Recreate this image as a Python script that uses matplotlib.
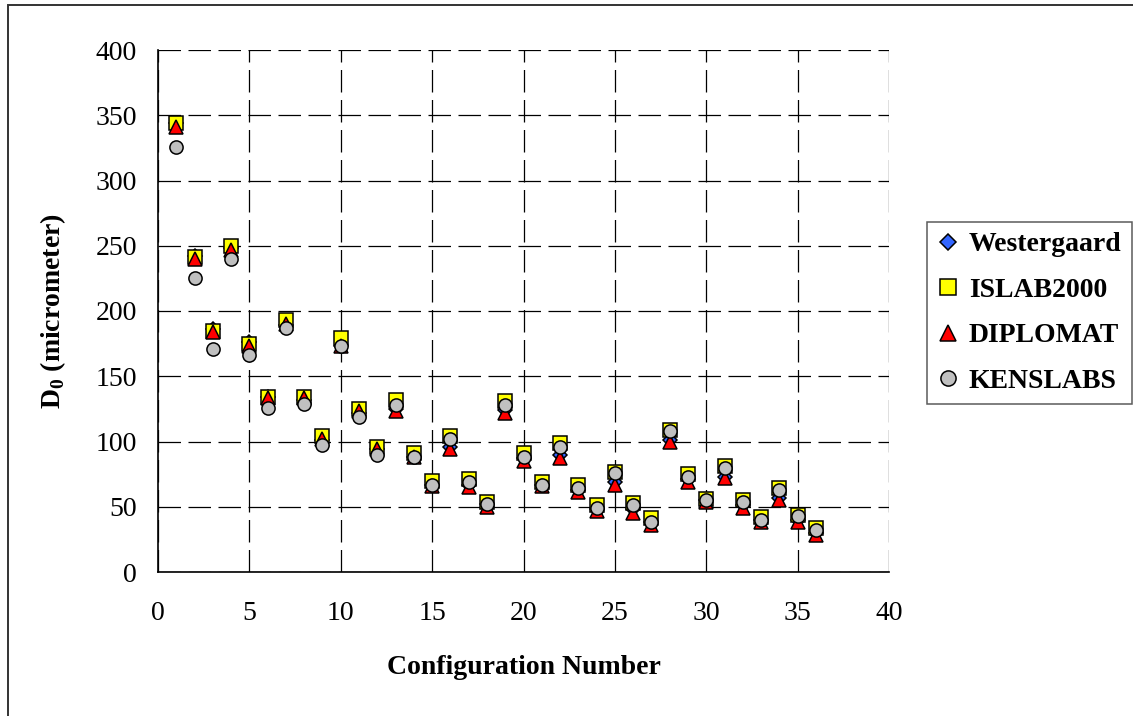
import matplotlib
matplotlib.use("Agg")
import matplotlib.pyplot as plt
from matplotlib.patches import Rectangle

plt.rcParams['font.family'] = ['Liberation Serif', 'DejaVu Serif']
plt.rcParams['mathtext.fontset'] = 'custom'
plt.rcParams['mathtext.rm'] = 'Liberation Serif'
plt.rcParams['mathtext.bf'] = 'Liberation Serif:bold'

config = list(range(1, 37))
westergaard = [344, 242, 186, 248, 176, 134, 189, 132, 101, 173, 122, 94, 125, 88, 67, 96, 67, 52,
               124, 87, 67, 90, 63, 48, 69, 48, 38, 101, 71, 55, 73, 51, 40, 57, 40, 30]
islab2000 = [344, 241, 185, 250, 175, 134, 193, 134, 104, 179, 125, 96, 132, 91, 70, 104, 71, 54,
             131, 91, 69, 99, 67, 51, 77, 53, 41, 109, 75, 56, 81, 55, 42, 64, 44, 34]
diplomat = [341, 240, 184, 247, 173, 133, 190, 133, 102, 173, 123, 94, 123, 88, 66, 94, 65, 50,
            122, 85, 66, 87, 61, 47, 67, 45, 36, 100, 69, 54, 72, 49, 38, 55, 38, 28]
kenslabs = [326, 225, 171, 240, 166, 126, 187, 129, 97, 173, 119, 90, 128, 88, 67, 102, 69, 52,
            128, 88, 67, 96, 64, 49, 76, 51, 38, 108, 73, 55, 80, 54, 40, 63, 43, 32]

xticks = [0, 5, 10, 15, 20, 25, 30, 35, 40]
yticks = [0, 50, 100, 150, 200, 250, 300, 350, 400]

W, H = 1133, 716
fig = plt.figure(figsize=(W / 100, H / 100), dpi=100)
fig.patch.set_facecolor('white')

# outer chart frame (right and bottom edges fall outside the image)
fig.add_artist(Rectangle((8 / W, -0.1), 1.2, 1 - 5 / H + 0.1, transform=fig.transFigure,
                         fill=False, edgecolor='#333333', linewidth=1.4))

ax = fig.add_axes([158 / W, 1 - 572 / H, (889 - 158) / W, (572 - 50) / H])
ax.set_xlim(0, 40)
ax.set_ylim(0, 400)
ax.set_xticks(xticks)
ax.set_yticks(yticks)
ax.tick_params(axis='both', length=0, labelsize=20)
ax.tick_params(axis='x', pad=21)
ax.tick_params(axis='y', pad=15)
for s in ['top', 'right']:
    ax.spines[s].set_visible(False)
for s in ['left', 'bottom']:
    ax.spines[s].set_linewidth(1.2)
    ax.spines[s].set_color('black')

ax.grid(True, color='black', linewidth=0.9, linestyle=(0, (18, 6)))
ax.set_axisbelow(True)

mk = dict(linestyle='none', markeredgecolor='black', markeredgewidth=1.1, clip_on=False)
ax.plot(config, westergaard, marker='D', markersize=7.5, markerfacecolor='#3366FF', label='Westergaard', **mk)
ax.plot(config, islab2000, marker='s', markersize=9.5, markerfacecolor='#FFFF00', label='ISLAB2000', **mk)
ax.plot(config, diplomat, marker='^', markersize=10, markerfacecolor='#FF0000', label='DIPLOMAT', **mk)
ax.plot(config, kenslabs, marker='o', markersize=9.5, markerfacecolor='#C0C0C0', label='KENSLABS', **mk)

ax.set_xlabel('Configuration Number', fontsize=20, fontweight='bold')
ax.set_ylabel(r'D$_\mathbf{0}$ (micrometer)', fontsize=20, fontweight='bold')
ax.xaxis.set_label_coords(0.5, -0.159)
ax.yaxis.set_label_coords(-0.123, 0.5)

leg = fig.legend(loc='upper left', bbox_to_anchor=(927 / W, 1 - 222 / H),
                 bbox_transform=fig.transFigure, frameon=True, fancybox=False,
                 edgecolor='#333333', prop={'weight': 'bold', 'size': 20},
                 handlelength=0.8, handletextpad=0.35, labelspacing=0.72,
                 borderpad=0.36, borderaxespad=0, markerscale=1.15)
leg.get_frame().set_linewidth(1.1)

fig.savefig('out.png', dpi=100, facecolor='white')
